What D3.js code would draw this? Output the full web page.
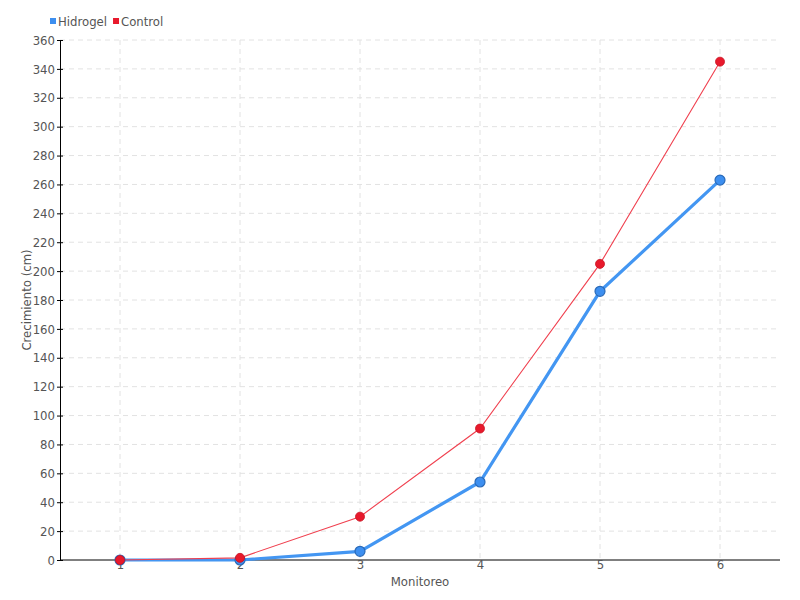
<!DOCTYPE html>
<html><head><meta charset="utf-8">
<script src="https://cdn.jsdelivr.net/npm/d3@7"></script>
<style>
body{margin:0;background:#fff;}
text{font-family:"DejaVu Sans Condensed","DejaVu Sans",sans-serif;font-stretch:condensed;fill:#555;}
</style></head>
<body><svg id="c" width="800" height="600"></svg>
<script>
const categories = [1, 2, 3, 4, 5, 6];
const hidrogel = [0, 0, 6, 54, 186, 263];
const control = [0, 1.5, 30, 91, 205, 345];
const yTicks = d3.range(0, 361, 20);
const seriesNames = ["Hidrogel", "Control"];
const colors = {Hidrogel: "#3d8ff0", Control: "#e8192c"};

const svg = d3.select("#c");
const m = {l: 60, r: 20, t: 40, b: 40};
const W = 800, H = 600;
const x = d3.scaleLinear().domain([0.5, 6.5]).range([m.l, W - m.r]);
const y = d3.scaleLinear().domain([0, 360]).range([H - m.b, m.t]);

// grid
const g = svg.append("g");
g.selectAll(".hg").data(yTicks.filter(d => d > 0)).join("line")
  .attr("x1", m.l).attr("x2", W - m.r).attr("y1", d => y(d)).attr("y2", d => y(d))
  .attr("stroke", "#e2e2e2").attr("stroke-dasharray", "5,4");
g.selectAll(".vg").data(categories).join("line")
  .attr("x1", d => x(d)).attr("x2", d => x(d)).attr("y1", m.t).attr("y2", H - m.b)
  .attr("stroke", "#e2e2e2").attr("stroke-dasharray", "5,4");

// axes
const ya = svg.append("g").attr("transform", `translate(${m.l},0)`)
  .call(d3.axisLeft(y).tickValues(yTicks).tickSize(3).tickSizeOuter(0));
ya.selectAll(".tick line").attr("x1", -3).attr("x2", 3).attr("stroke", "#000");
ya.select(".domain").attr("stroke", "#000");
ya.selectAll("text").attr("font-size", 13).attr("x", -5).style("font-family", null);
const xa = svg.append("g").attr("transform", `translate(0,${H - m.b})`)
  .call(d3.axisBottom(x).tickValues(categories).tickFormat(d3.format("d")).tickSize(0).tickSizeOuter(0));
xa.select(".domain").attr("d", `M${m.l},0H${W - m.r}`).attr("stroke", "#000");
xa.selectAll("text").attr("font-size", 13).attr("dy", "0.45em").style("font-family", null);
svg.selectAll(".tick text").attr("fill", "#555");

// labels
svg.append("text").attr("x", (m.l + W - m.r) / 2).attr("y", 586).attr("text-anchor", "middle")
  .attr("font-size", 13).text("Monitoreo");
svg.append("text").attr("transform", `translate(31,${(m.t + H - m.b) / 2}) rotate(-90)`)
  .attr("text-anchor", "middle").attr("font-size", 13).text("Crecimiento (cm)");

// lines
const line = d3.line().x((d, i) => x(categories[i])).y(d => y(d));
svg.append("path").datum(hidrogel).attr("d", line).attr("fill", "none")
  .attr("stroke", "#4396f2").attr("stroke-width", 3.2);
svg.append("path").datum(control).attr("d", line).attr("fill", "none")
  .attr("stroke", "#f0404f").attr("stroke-width", 1.1);
svg.selectAll(".ph").data(hidrogel).join("circle")
  .attr("cx", (d, i) => x(categories[i])).attr("cy", d => y(d)).attr("r", 5)
  .attr("fill", colors.Hidrogel).attr("stroke", "#2a6ab8").attr("stroke-width", 1.2);
svg.selectAll(".pc").data(control).join("circle")
  .attr("cx", (d, i) => x(categories[i])).attr("cy", d => y(d)).attr("r", 4.5)
  .attr("fill", colors.Control).attr("stroke", "#c8101f").attr("stroke-width", 0.8);

// legend
const lg = svg.append("g");
let lx = 50;
seriesNames.forEach(n => {
  lg.append("rect").attr("x", lx).attr("y", 18).attr("width", 6).attr("height", 6).attr("fill", colors[n]);
  const t = lg.append("text").attr("x", lx + 8).attr("y", 26).attr("font-size", 13).text(n);
  lx += 8 + t.node().getComputedTextLength() + 6;
});
</script></body></html>
